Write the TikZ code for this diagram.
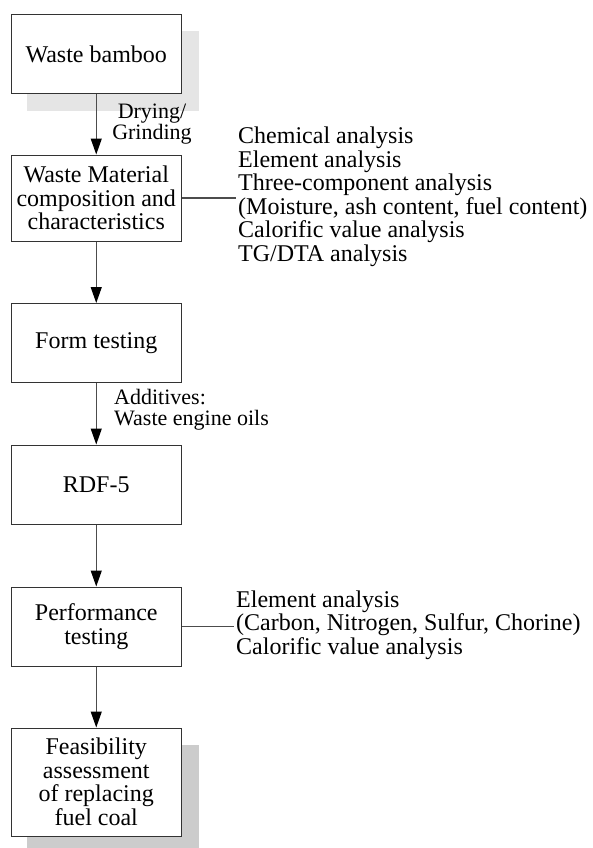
\documentclass[tikz,border=0pt]{standalone}
\usepackage{fontspec}
\setmainfont{Liberation Serif}
\usetikzlibrary{positioning,backgrounds,arrows.meta}

\begin{document}
\begin{tikzpicture}[
          x=1pt, y=-1pt,
          every node/.style={font=\fontsize{24}{23.5}\selectfont},
          stage/.style={rectangle,draw=black!80,line width=1pt,fill=white,
            minimum width=170.5pt,minimum height=79pt,align=center,inner sep=2pt},
          flow/.style={black!70,line width=1.2pt,-{Triangle[length=16pt,width=11pt,black]}},
          tie/.style={black!70,line width=1.2pt},
          note/.style={align=left,anchor=west,inner xsep=2pt,inner ysep=0pt},
          step label/.style={font=\fontsize{22}{21}\selectfont,inner sep=0pt},
        ]
        \useasboundingbox (0,0) rectangle (592,848);
        % main chain of stages
        \node[stage] (s1) at (96.25,54.5) {Waste bamboo};
        \node[stage,minimum height=86pt] (s2) at (96.25,198) {Waste Material\\composition and\\characteristics};
        \node[stage] (s3) at (96.25,343) {Form testing};
        \node[stage] (s4) at (96.25,484.5) {RDF-5};
        \node[stage] (s5) at (96.25,626.5) {Performance\\testing};
        \node[stage,minimum height=108pt] (s6) at (96.25,782) {Feasibility\\assessment\\of replacing\\fuel coal};
        % shadows behind first and last stage
        \begin{scope}[on background layer]
          \fill[black!10] ([shift={(16.5,16.5)}]s1.north west) rectangle ([shift={(16.5,16.5)}]s1.south east);
          \fill[black!20] ([shift={(16.5,17)}]s6.north west) rectangle ([shift={(16.5,17)}]s6.south east);
        \end{scope}
        \foreach \i/\j in {1/2,2/3,3/4,4/5,5/6} {
          \draw[flow] (s\i) -- (s\j);
        }
        \node[step label,align=center] (dry) at (152,124) {Drying/\\Grinding};
        \node[step label,align=left,anchor=west] (add) at (114,410) {Additives:\\Waste engine oils};
        % analyses attached to the stages
        \node[note] (a2) at (236,197) {Chemical analysis\\Element analysis\\Three-component analysis\\(Moisture, ash content, fuel content)\\Calorific value analysis\\TG/DTA analysis};
        \node[note] (a5) at (234,625) {Element analysis\\(Carbon, Nitrogen, Sulfur, Chorine)\\Calorific value analysis};
        \draw[tie] (s2.east) -- (s2.east -| a2.west);
        \draw[tie] (s5.east) -- (s5.east -| a5.west);
      \end{tikzpicture}
\end{document}
